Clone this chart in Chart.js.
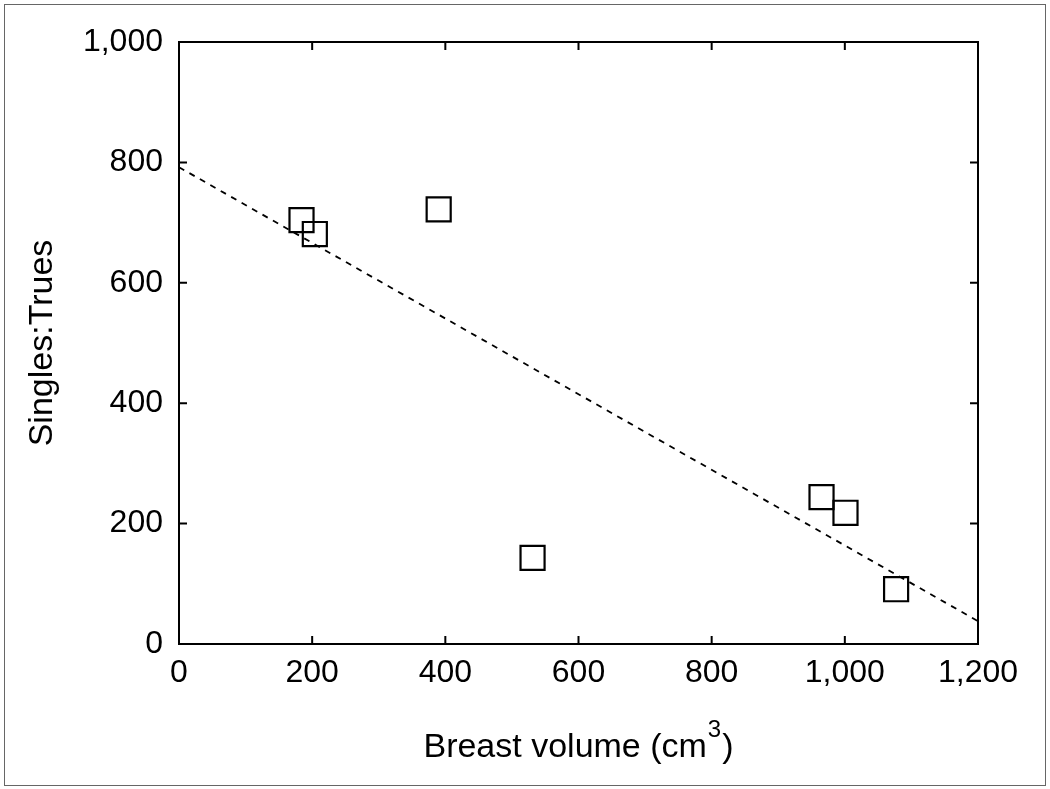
<!DOCTYPE html>
<html lang="en">
<head>
<meta charset="UTF-8">
<script src="https://cdn.jsdelivr.net/npm/chart.js"></script>
<title>Singles:Trues vs breast volume</title>
<style>
  body { margin: 0; background: #fff; }
  #moldura { position: absolute; left: 4px; top: 4px; width: 1040px; height: 780px; border: 1.5px solid #666; }
  #caixa { position: absolute; left: 0; top: 0; width: 1050px; height: 789px; }
</style>
</head>
<body>
<div id="moldura"></div>
<div id="caixa"><canvas id="grafico" width="1050" height="789"></canvas></div>
<script>
// data
const volumes = [184, 204, 390, 531, 965, 1001, 1077];
const razoes  = [704, 681, 722, 143, 244, 218, 91];

// fitted trend line, ends at the axis limits
const linhaX = [0, 1200];
const linhaY = [792, 38];

const xTickLabels = ['0', '200', '400', '600', '800', '1,000', '1,200'];
const yTickLabels = ['0', '200', '400', '600', '800', '1,000'];

const pontos = volumes.map((v, i) => ({ x: v, y: razoes[i] }));
const linha = linhaX.map((v, i) => ({ x: v, y: linhaY[i] }));

Chart.defaults.font.family = '"Liberation Sans", Arial, Helvetica, sans-serif';
Chart.defaults.font.size = 32;
Chart.defaults.color = '#000';

// box round the plot, inward ticks on all 4 sides, axis titles
const caixaPlugin = {
  id: 'caixa',
  afterDraw(chart) {
    const ctx = chart.ctx;
    const a = chart.chartArea;
    const sx = chart.scales.x, sy = chart.scales.y;
    const tl = 8;
    ctx.save();
    ctx.strokeStyle = '#000';
    ctx.lineWidth = 2;
    ctx.beginPath();
    ctx.moveTo(a.left, a.top); ctx.lineTo(a.right, a.top); ctx.lineTo(a.right, a.bottom);
    sx.ticks.forEach(t => {
      const p = sx.getPixelForValue(t.value);
      ctx.moveTo(p, a.bottom); ctx.lineTo(p, a.bottom - tl);
      ctx.moveTo(p, a.top); ctx.lineTo(p, a.top + tl);
    });
    sy.ticks.forEach(t => {
      const p = sy.getPixelForValue(t.value);
      ctx.moveTo(a.left, p); ctx.lineTo(a.left + tl, p);
      ctx.moveTo(a.right, p); ctx.lineTo(a.right - tl, p);
    });
    ctx.stroke();

    // x title with a raised 3
    ctx.fillStyle = '#000';
    ctx.textBaseline = 'alphabetic';
    ctx.textAlign = 'left';
    const fam = Chart.defaults.font.family;
    const t1 = 'Breast volume (cm', t2 = '3', t3 = ')';
    ctx.font = '34px ' + fam;
    const w1 = ctx.measureText(t1).width, w3 = ctx.measureText(t3).width;
    ctx.font = '24px ' + fam;
    const w2 = ctx.measureText(t2).width + 2;
    let x0 = (a.left + a.right) / 2 - (w1 + w2 + w3) / 2;
    const base = 757;
    ctx.font = '34px ' + fam;
    ctx.fillText(t1, x0, base);
    ctx.font = '24px ' + fam;
    ctx.fillText(t2, x0 + w1 + 1, base - 20);
    ctx.font = '34px ' + fam;
    ctx.fillText(t3, x0 + w1 + w2, base);

    // y title
    ctx.translate(43, (a.top + a.bottom) / 2);
    ctx.rotate(-Math.PI / 2);
    ctx.textAlign = 'center';
    ctx.textBaseline = 'middle';
    ctx.fillText('Singles:Trues', 0, 0);
    ctx.restore();
  }
};

new Chart(document.getElementById('grafico'), {
  type: 'scatter',
  data: {
    datasets: [
      {
        label: 'Ajuste',
        data: linha,
        showLine: true,
        borderColor: '#000',
        borderWidth: 1.8,
        borderDash: [6, 6],
        pointRadius: 0,
        fill: false
      },
      {
        label: 'Singles:Trues',
        data: pontos,
        pointStyle: 'rect',
        pointRadius: 17,
        pointHoverRadius: 17,
        borderColor: '#000',
        backgroundColor: 'rgba(0,0,0,0)',
        pointBorderWidth: 2.2
      }
    ]
  },
  options: {
    responsive: false,
    animation: false,
    devicePixelRatio: 1,
    layout: { padding: { left: 0, top: 42, right: 72, bottom: 0 } },
    plugins: { legend: { display: false }, tooltip: { enabled: false } },
    scales: {
      x: {
        type: 'linear',
        min: 0, max: 1200,
        grid: { display: false, drawTicks: false },
        border: { display: true, color: '#000', width: 2 },
        ticks: {
          stepSize: 200,
          padding: 10,
          maxRotation: 0,
          callback: (v, i) => xTickLabels[i]
        },
        afterFit: s => { s.height = 145; }
      },
      y: {
        type: 'linear',
        min: 0, max: 1000,
        grid: { display: false, drawTicks: false },
        border: { display: true, color: '#000', width: 2 },
        ticks: {
          stepSize: 200,
          padding: 16,
          callback: (v, i) => yTickLabels[i]
        },
        afterFit: s => { s.width = 179; }
      }
    }
  },
  plugins: [caixaPlugin]
});
</script>
</body>
</html>
